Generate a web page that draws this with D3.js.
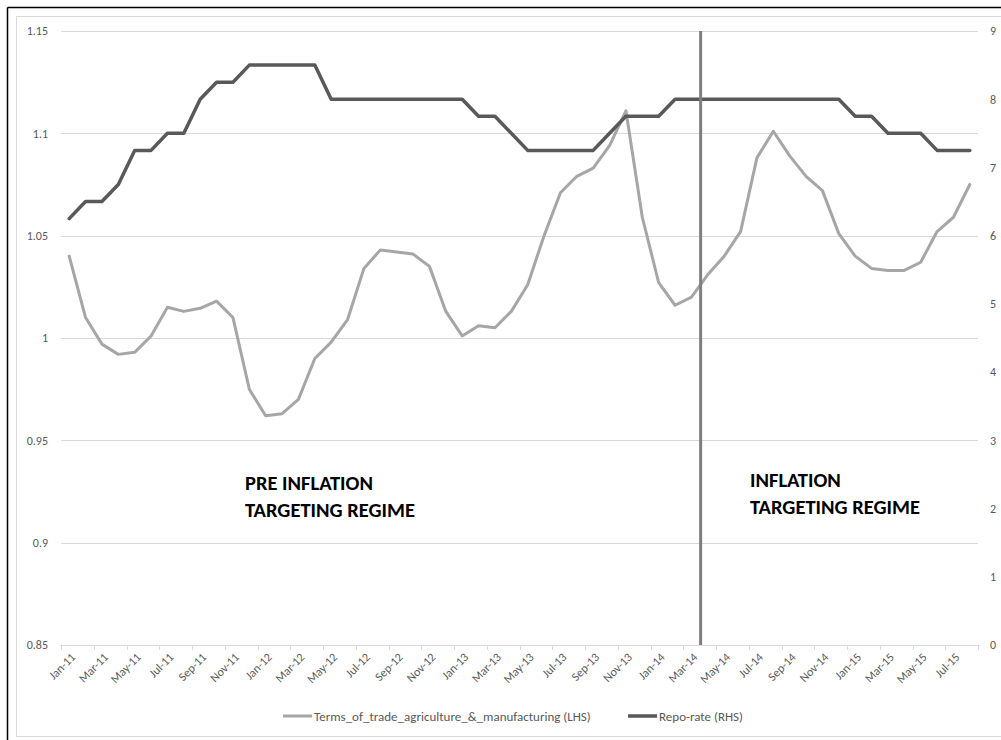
<html>
  <head>
    <meta charset="utf-8">
    <title>Terms of trade vs repo rate</title>
    <style>
      body { margin: 0; background: #fff; }
      svg { display: block; font-family: Calibri, Carlito, Lato, "Open Sans", sans-serif; }
    </style>
  </head>
  <body>
    <script src="https://cdn.jsdelivr.net/npm/d3@7"></script>
    <script>
    var widthCanvas = 1001;   // canvas width
    var heightCanvas = 740;   // canvas height

    // months Jan-11 .. Aug-15
    var months = ["Jan-11","Feb-11","Mar-11","Apr-11","May-11","Jun-11","Jul-11","Aug-11","Sep-11","Oct-11","Nov-11","Dec-11",
                  "Jan-12","Feb-12","Mar-12","Apr-12","May-12","Jun-12","Jul-12","Aug-12","Sep-12","Oct-12","Nov-12","Dec-12",
                  "Jan-13","Feb-13","Mar-13","Apr-13","May-13","Jun-13","Jul-13","Aug-13","Sep-13","Oct-13","Nov-13","Dec-13",
                  "Jan-14","Feb-14","Mar-14","Apr-14","May-14","Jun-14","Jul-14","Aug-14","Sep-14","Oct-14","Nov-14","Dec-14",
                  "Jan-15","Feb-15","Mar-15","Apr-15","May-15","Jun-15","Jul-15","Aug-15"];

    // terms of trade, agriculture vs manufacturing (LHS)
    var termsOfTrade = [1.040,1.010,0.997,0.992,0.993,1.001,1.015,1.013,1.0145,1.018,1.010,0.975,
                        0.962,0.963,0.970,0.990,0.998,1.009,1.034,1.043,1.042,1.041,1.035,1.013,
                        1.001,1.006,1.005,1.013,1.026,1.050,1.071,1.079,1.083,1.094,1.111,1.059,
                        1.027,1.016,1.020,1.031,1.040,1.052,1.088,1.101,1.089,1.079,1.072,1.051,
                        1.040,1.034,1.033,1.033,1.037,1.052,1.059,1.075];

    // repo rate (RHS)
    var repoRate = [6.25,6.5,6.5,6.75,7.25,7.25,7.5,7.5,8.0,8.25,8.25,8.5,
                    8.5,8.5,8.5,8.5,8.0,8.0,8.0,8.0,8.0,8.0,8.0,8.0,
                    8.0,7.75,7.75,7.5,7.25,7.25,7.25,7.25,7.25,7.5,7.75,7.75,
                    7.75,8.0,8.0,8.0,8.0,8.0,8.0,8.0,8.0,8.0,8.0,8.0,
                    7.75,7.75,7.5,7.5,7.5,7.25,7.25,7.25];

    var leftTicks = [0.85,0.9,0.95,1,1.05,1.1,1.15];
    var rightTicks = [0,1,2,3,4,5,6,7,8,9];
    var regimeStart = "Apr-14";
    var seriesNames = ["Terms_of_trade_agriculture_&_manufacturing (LHS)", "Repo-rate (RHS)"];
    var seriesColours = ["#a6a6a6", "#595959"];

    var plotLeft = 61, plotRight = 978, plotTop = 31, plotBottom = 645;

    var svg = d3.select("body")
                .append("svg")
                .attr("width", widthCanvas)
                .attr("height", heightCanvas);

    // chart frame (cropped screenshot of a spreadsheet chart)
    svg.append("rect")
       .attr("x", 16.5).attr("y", 16.5)
       .attr("width", widthCanvas).attr("height", 720)
       .style("fill", "#fff").style("stroke", "#d9d9d9");
    svg.append("line").attr("x1", 7.5).attr("x2", widthCanvas).attr("y1", 7.5).attr("y2", 7.5)
       .style("stroke", "#000").style("stroke-width", 1.5);
    svg.append("line").attr("x1", 7.5).attr("x2", 7.5).attr("y1", 7.5).attr("y2", heightCanvas)
       .style("stroke", "#000").style("stroke-width", 1.5);

    var x = d3.scaleBand()
              .domain(months)
              .range([plotLeft, plotRight]);
    var yL = d3.scaleLinear()
               .domain([0.85, 1.15])
               .range([plotBottom, plotTop]);
    var yR = d3.scaleLinear()
               .domain([0, 9])
               .range([plotBottom, plotTop]);
    function cx(m) { return x(m) + x.bandwidth() / 2; }

    // gridlines
    svg.append("g")
       .selectAll("line")
       .data(leftTicks)
       .enter()
       .append("line")
       .attr("x1", plotLeft).attr("x2", plotRight)
       .attr("y1", function(d){ return Math.round(yL(d)) + 0.5; })
       .attr("y2", function(d){ return Math.round(yL(d)) + 0.5; })
       .style("stroke", "#d9d9d9")
       .style("stroke-width", 1);

    // x tick marks every two months
    var tickPos = d3.range(0, months.length + 1, 2).map(function(i){
        return i < months.length ? x(months[i]) : plotRight;
    });
    svg.append("g")
       .selectAll("line")
       .data(tickPos)
       .enter()
       .append("line")
       .attr("x1", function(d){ return Math.round(d) + 0.5; })
       .attr("x2", function(d){ return Math.round(d) + 0.5; })
       .attr("y1", plotBottom).attr("y2", plotBottom + 5)
       .style("stroke", "#d9d9d9");

    // x labels
    svg.append("g")
       .selectAll("text")
       .data(months.filter(function(d, i){ return i % 2 == 0; }))
       .enter()
       .append("text")
       .attr("transform", function(d){
           return "translate(" + (cx(d) + 1) + "," + (plotBottom + 7) + ") rotate(-45)";
       })
       .attr("text-anchor", "end")
       .attr("dy", "0.7em")
       .style("font-size", "12px")
       .style("fill", "#595959")
       .text(function(d){ return d; });

    // left axis
    var axisL = svg.append("g")
       .attr("transform", "translate(" + plotLeft + ",0)")
       .call(d3.axisLeft(yL).tickValues(leftTicks).tickSize(0).tickPadding(13)
             .tickFormat(function(d){ return String(+d.toFixed(2)); }));
    axisL.select(".domain").remove();
    axisL.selectAll("text").style("font-size", "12px").style("fill", "#595959")
         .style("font-family", "Calibri, Carlito, Lato, 'Open Sans', sans-serif");

    // right axis
    var axisR = svg.append("g")
       .attr("transform", "translate(" + plotRight + ",0)")
       .call(d3.axisRight(yR).tickValues(rightTicks).tickSize(0).tickPadding(12));
    axisR.select(".domain").remove();
    axisR.selectAll("text").style("font-size", "12px").style("fill", "#595959")
         .style("font-family", "Calibri, Carlito, Lato, 'Open Sans', sans-serif");

    // lines
    var lineL = d3.line()
                  .x(function(d, i){ return cx(months[i]); })
                  .y(function(d){ return yL(d); });
    var lineR = d3.line()
                  .x(function(d, i){ return cx(months[i]); })
                  .y(function(d){ return yR(d); });

    svg.append("path")
       .datum(termsOfTrade)
       .attr("d", lineL)
       .style("fill", "none")
       .style("stroke", seriesColours[0])
       .style("stroke-width", 3)
       .style("stroke-linejoin", "round")
       .style("stroke-linecap", "round");

    svg.append("path")
       .datum(repoRate)
       .attr("d", lineR)
       .style("fill", "none")
       .style("stroke", seriesColours[1])
       .style("stroke-width", 3.5)
       .style("stroke-linejoin", "round")
       .style("stroke-linecap", "round");

    // regime boundary
    svg.append("line")
       .attr("x1", x(regimeStart) + 1).attr("x2", x(regimeStart) + 1)
       .attr("y1", plotTop).attr("y2", plotBottom)
       .style("stroke", "#7f7f7f")
       .style("stroke-width", 3);

    // annotations
    function note(xp, yp, lines) {
        var t = svg.append("text")
                   .attr("x", xp).attr("y", yp)
                   .style("font-size", "20.5px")
                   .style("font-weight", "bold")
                   .style("fill", "#000");
        lines.forEach(function(s, i){
            t.append("tspan").attr("x", xp).attr("dy", i == 0 ? 0 : 27).text(s);
        });
    }
    note(245, 490, ["PRE INFLATION", "TARGETING REGIME"]);
    note(750, 487, ["INFLATION", "TARGETING REGIME"]);

    // legend
    var legendX = [283, 628];
    var legend = svg.append("g")
                    .selectAll("g")
                    .data(seriesNames)
                    .enter()
                    .append("g")
                    .attr("transform", function(d, i){ return "translate(" + legendX[i] + ",716)"; });
    legend.append("line")
          .attr("x1", 0).attr("x2", 29)
          .style("stroke", function(d, i){ return seriesColours[i]; })
          .style("stroke-width", function(d, i){ return i == 0 ? 3 : 3.5; });
    legend.append("text")
          .attr("x", 31).attr("dy", "0.35em")
          .style("font-size", "13px")
          .style("fill", "#595959")
          .text(function(d){ return d; });
    </script>
  </body>
</html>
